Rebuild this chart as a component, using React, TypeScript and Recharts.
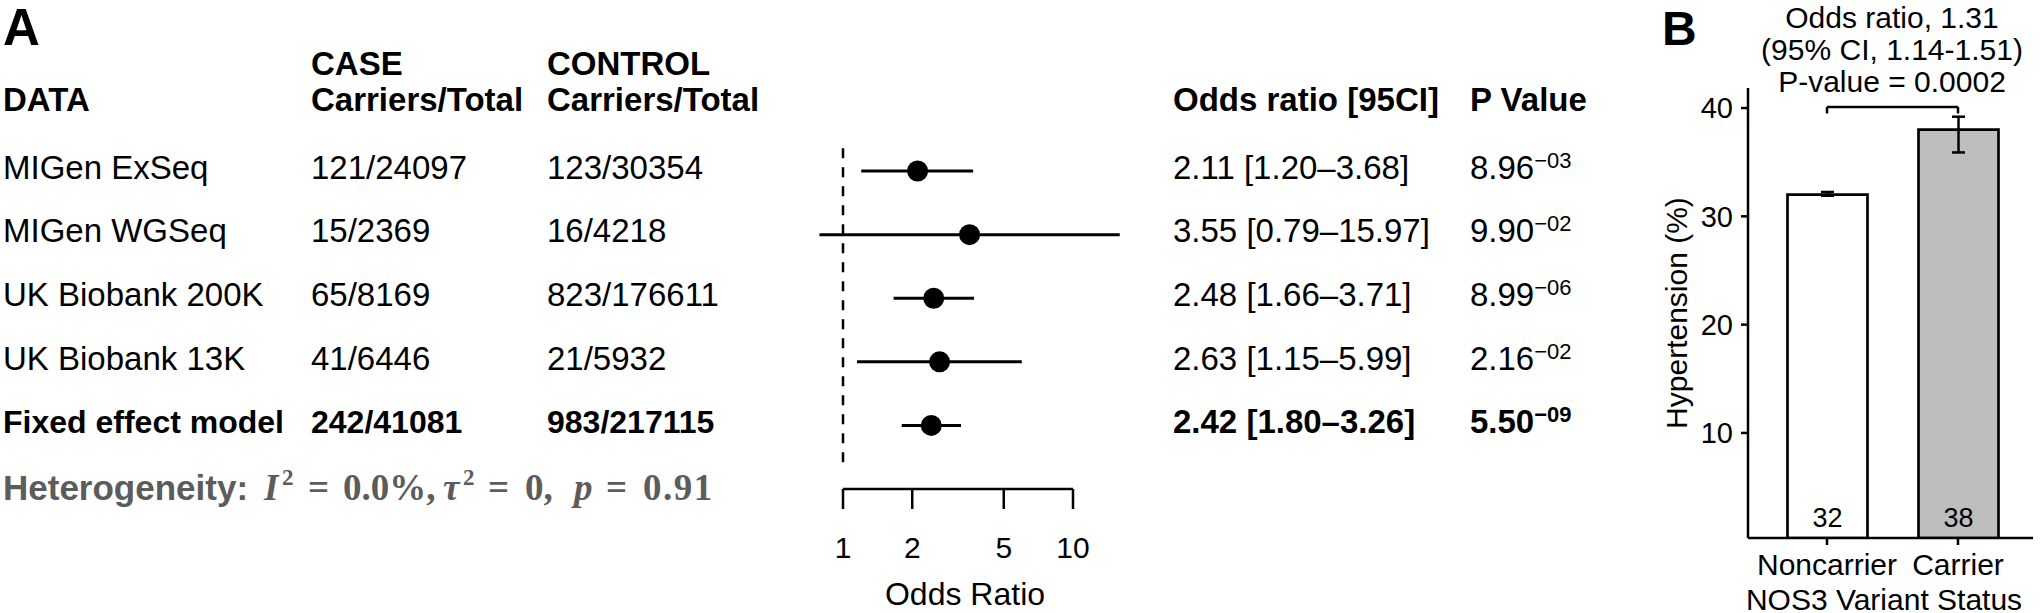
import {
  ScatterChart,
  Scatter,
  BarChart,
  Bar,
  Cell,
  XAxis,
  YAxis,
  ReferenceLine,
  ErrorBar,
  LabelList
} from 'recharts'

// Panel A: meta-analysis table + forest plot
const studies = ['MIGen ExSeq', 'MIGen WGSeq', 'UK Biobank 200K', 'UK Biobank 13K', 'Fixed effect model']
const caseCarriers = ['121/24097', '15/2369', '65/8169', '41/6446', '242/41081']
const controlCarriers = ['123/30354', '16/4218', '823/176611', '21/5932', '983/217115']
const oddsRatio = [2.11, 3.55, 2.48, 2.63, 2.42]
const ciLower = [1.2, 0.79, 1.66, 1.15, 1.8]
const ciUpper = [3.68, 15.97, 3.71, 5.99, 3.26]
const pMantissa = ['8.96', '9.90', '8.99', '2.16', '5.50']
const pExponent = ['−03', '−02', '−06', '−02', '−09']
const orTicks = [1, 2, 5, 10]
const hetI2 = '0.0%,'
const hetTau2 = '0,'
const hetP = '0.91'

// Panel B: hypertension by NOS3 carrier status
const statusGroups = ['Noncarrier', 'Carrier']
const hypertensionPct = [32, 38]
const hypertensionCI = [
  [31.9, 32.25],
  [35.9, 39.2]
]
const barFills = ['#ffffff', '#bebebe']
const pctTicks = [10, 20, 30, 40]

const SANS = '"Liberation Sans", Arial, Helvetica, sans-serif'
const SERIF = '"Liberation Serif", "DejaVu Serif", serif'
const GRAY = '#5c5c5c'

const forestData = studies.map((study, i) => ({ study, or: oddsRatio[i], row: i }))

const barData = statusGroups.map((status, i) => ({
  status,
  pct: hypertensionPct[i],
  err: [hypertensionPct[i] - hypertensionCI[i][0], hypertensionCI[i][1] - hypertensionPct[i]]
}))

const ROW_Y = [171, 234, 298, 362, 425]

function Dot(props: any) {
  return <circle cx={props.cx} cy={props.cy} r={10.5} fill="#000" />
}

export default function App() {
  const axisStyle = { stroke: '#000', strokeWidth: 2.5 }
  return (
    <div
      style={{
        position: 'absolute',
        left: 0,
        top: 0,
        width: 2040,
        height: 613,
        background: '#fff',
        overflow: 'hidden'
      }}
    >
      <svg
        width={2040}
        height={613}
        style={{ position: 'absolute', left: 0, top: 0 }}
        fontFamily={SANS}
      >
        <text x={3} y={45} fontSize={51} fontWeight="bold">A</text>
        <text x={1662} y={45} fontSize={48} fontWeight="bold">B</text>

        {/* table headers */}
        <g fontSize={33} fontWeight="bold">
          <text x={311} y={75}>CASE</text>
          <text x={547} y={75}>CONTROL</text>
          <text x={3} y={111}>DATA</text>
          <text x={311} y={111}>Carriers/Total</text>
          <text x={547} y={111}>Carriers/Total</text>
          <text x={1173} y={111}>Odds ratio [95CI]</text>
          <text x={1470} y={111}>P Value</text>
        </g>

        {/* table rows */}
        {studies.map((s, i) => {
          const y = ROW_Y[i] + 8
          const bold = i === studies.length - 1 ? 'bold' : 'normal'
          return (
            <g key={s} fontSize={i === studies.length - 1 ? 32 : 33} fontWeight={bold}>
              <text x={3} y={y}>{s}</text>
              <text x={311} y={y}>{caseCarriers[i]}</text>
              <text x={547} y={y}>{controlCarriers[i]}</text>
              <text x={1173} y={y} fontSize={33}>
                {`${oddsRatio[i].toFixed(2)} [${ciLower[i].toFixed(2)}–${ciUpper[i].toFixed(2)}]`}
              </text>
              <text x={1470} y={y} fontSize={33}>
                {pMantissa[i]}
                <tspan fontSize={22} dy={-11}>{pExponent[i]}</tspan>
              </text>
            </g>
          )
        })}

        {/* heterogeneity line */}
        <g fill={GRAY} fontWeight="bold">
          <text x={3} y={500} fontSize={35}>Heterogeneity:</text>
          <g fontFamily={SERIF} fontSize={37}>
            <text x={264} y={500} fontStyle="italic">I</text>
            <text x={282} y={485} fontSize={23}>2</text>
            <text x={308} y={500}>=</text>
            <text x={343} y={500}>{hetI2}</text>
            <text x={443} y={500} fontStyle="italic">τ</text>
            <text x={463} y={485} fontSize={23}>2</text>
            <text x={488} y={500}>=</text>
            <text x={525} y={500}>{hetTau2}</text>
            <text x={574} y={500} fontStyle="italic">p</text>
            <text x={606} y={500}>=</text>
            <text x={643} y={500} letterSpacing={1.5}>{hetP}</text>
          </g>
        </g>

        <text x={965} y={605} fontSize={32} textAnchor="middle">Odds Ratio</text>

        {/* panel B annotations */}
        <g fontSize={30} textAnchor="middle">
          <text x={1892} y={28}>Odds ratio, 1.31</text>
          <text x={1892} y={60}>(95% CI, 1.14-1.51)</text>
          <text x={1892} y={92}>P-value = 0.0002</text>
          <text x={1884} y={610}>NOS3 Variant Status</text>
          <text x={1687} y={313} transform="rotate(-90 1687 313)">Hypertension (%)</text>
        </g>
      </svg>

      <div style={{ position: 'absolute', left: 700, top: 100 }}>
        <ScatterChart width={500} height={513} margin={{ top: 39.25, right: 127, bottom: 0, left: 143 }}>
          <XAxis
            type="number"
            dataKey="or"
            scale="log"
            domain={[1, 10]}
            allowDataOverflow
            ticks={orTicks}
            interval={0}
            height={124}
            tickSize={20}
            tickMargin={28}
            axisLine={axisStyle}
            tickLine={axisStyle}
            tick={{ fill: '#000', fontSize: 30, fontFamily: SANS }}
          />
          <YAxis type="number" dataKey="row" domain={[-0.5, 5]} reversed allowDataOverflow hide />
          <ReferenceLine
            segment={[
              { x: 1, y: -0.36 },
              { x: 1, y: 4.7 }
            ]}
            stroke="#000"
            strokeWidth={2.5}
            strokeDasharray="10 9"
          />
          {forestData.map((d, i) => (
            <ReferenceLine
              key={d.study}
              segment={[
                { x: ciLower[i], y: d.row },
                { x: ciUpper[i], y: d.row }
              ]}
              stroke="#000"
              strokeWidth={3}
              ifOverflow="visible"
            />
          ))}
          <Scatter data={forestData} shape={<Dot />} isAnimationActive={false} />
        </ScatterChart>
      </div>

      <div style={{ position: 'absolute', left: 1640, top: 0 }}>
        <BarChart width={400} height={613} data={barData} margin={{ top: 88, right: 7, bottom: 0, left: 0 }}>
          <XAxis
            dataKey="status"
            type="category"
            height={75}
            padding={{ left: 13.5, right: 9.5 }}
            tickSize={7}
            tickMargin={9}
            interval={0}
            axisLine={axisStyle}
            tickLine={axisStyle}
            tick={{ fill: '#000', fontSize: 30, fontFamily: SANS }}
          />
          <YAxis
            type="number"
            domain={[0.3, 41.85]}
            allowDataOverflow
            ticks={pctTicks}
            width={108}
            tickSize={7}
            tickMargin={8}
            axisLine={axisStyle}
            tickLine={axisStyle}
            tick={{ fill: '#000', fontSize: 29, fontFamily: SANS }}
          />
          <Bar dataKey="pct" barSize={80} stroke="#000" strokeWidth={2.7} isAnimationActive={false}>
            {barData.map((d, i) => (
              <Cell key={d.status} fill={barFills[i]} />
            ))}
            <ErrorBar dataKey="err" direction="y" width={6.5} stroke="#000" strokeWidth={2.5} isAnimationActive={false} />
            <LabelList
              dataKey="pct"
              position="insideBottom"
              offset={11}
              fill="#000"
              stroke="none"
              fontSize={27}
              fontFamily={SANS}
            />
          </Bar>
          {/* significance bracket */}
          <ReferenceLine
            segment={[
              { x: 'Noncarrier', y: 40.1 },
              { x: 'Carrier', y: 40.1 }
            ]}
            stroke="#000"
            strokeWidth={2.5}
          />
          <ReferenceLine
            segment={[
              { x: 'Noncarrier', y: 40.1 },
              { x: 'Noncarrier', y: 39.5 }
            ]}
            stroke="#000"
            strokeWidth={2.5}
          />
          <ReferenceLine
            segment={[
              { x: 'Carrier', y: 40.1 },
              { x: 'Carrier', y: 39.5 }
            ]}
            stroke="#000"
            strokeWidth={2.5}
          />
        </BarChart>
      </div>
    </div>
  )
}
